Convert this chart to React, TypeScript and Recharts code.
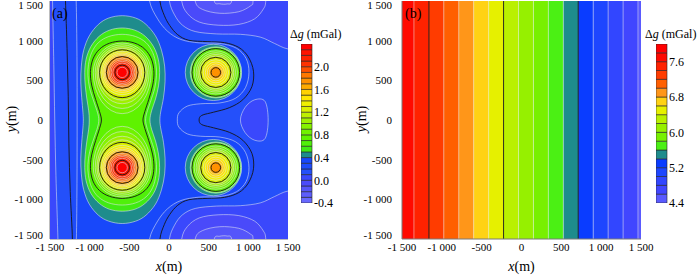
import React from "react";
import {
  ScatterChart,
  Scatter,
  XAxis,
  YAxis,
  BarChart,
  Bar,
  ReferenceArea,
  ReferenceLine,
} from "recharts";

const FONT = "Liberation Serif, Times New Roman, serif";
const FRAME = "#7a7a7a";
const LIGHT_LINE = "rgba(225,228,240,0.8)";
const DARK_LINE = "#161616";

// shared axes (metres)
const axisTicks = [-1500, -1000, -500, 0, 500, 1000, 1500];
const axisTickLabels = ["-1 500", "-1 000", "-500", "0", "500", "1 000", "1 500"];

// ---------- panel (a): residual anomaly ----------
const levelsA = [
  -0.4, -0.3, -0.2, -0.1, 0.0, 0.1, 0.2, 0.3, 0.4, 0.5, 0.6, 0.7, 0.8, 0.9, 1.0,
  1.1, 1.2, 1.3, 1.4, 1.5, 1.6, 1.7, 1.8, 1.9, 2.0, 2.1, 2.2, 2.3, 2.4,
];
const colorsA = [
  "#6868FF", "#5E5EFC", "#5555FA", "#4A4AFA", "#3A48FC", "#2450FA", "#1E4CFA", "#1848FA",
  "#1E8C8C", "#40EA14", "#50F00A", "#5FF200", "#70F200", "#86F200", "#A0F000", "#BEF000",
  "#DCF000", "#F0F000", "#FFE600", "#FFD200", "#FFAA00", "#FF9100", "#FF7800", "#FF5000",
  "#FF3200", "#FF2300", "#FF1400", "#FF0000",
];
const colorTicksA = [-0.4, 0, 0.4, 0.8, 1.2, 1.6, 2.0];
const majorLevelsA = [0.2, 0.7, 1.2, 1.7, 2.2];
const backgroundLevelA = 0.1;

// contour outlines, [x, y] in metres
const plotBox = [[-1800, 1800], [1800, 1800], [1800, -1800], [-1800, -1800]];
const leftLow01 = [[-1800, 1800], [-1475, 1800], [-1468, 1500], [-1452, 700], [-1440, 0], [-1425, -700], [-1400, -1500], [-1395, -1800], [-1800, -1800]];
const topLow01 = [[-10, 1800], [5, 1500], [70, 1325], [170, 1195], [330, 1115], [600, 1085], [900, 1080], [1150, 1045], [1330, 965], [1500, 895], [1800, 860], [1800, 1800]];
const topLow00 = [[150, 1800], [160, 1500], [230, 1345], [380, 1235], [620, 1195], [880, 1205], [1080, 1275], [1190, 1400], [1220, 1500], [1230, 1800]];
const topLowM01 = [[320, 1800], [330, 1500], [420, 1395], [640, 1345], [880, 1365], [1030, 1440], [1060, 1500], [1070, 1800]];
const topLowM02 = [[560, 1800], [570, 1500], [640, 1465], [730, 1462], [790, 1500], [800, 1800]];
const rightLow01 = [[900, 0], [960, 160], [1080, 255], [1210, 235], [1250, 0], [1210, -235], [1080, -255], [960, -160]];

const region02 = [
  [-1320, 1800], [-120, 1800], [-114, 1500], [-60, 1320], [10, 1190], [110, 1075], [250, 1005], [480, 988], [700, 975],
  [880, 915], [1000, 795], [1065, 615], [1045, 420], [930, 255], [760, 155], [560, 98], [430, 65], [385, 30],
  [385, -30], [430, -65], [560, -98], [760, -155], [930, -255], [1045, -420], [1065, -615], [1000, -795], [880, -915],
  [700, -975], [480, -988], [250, -1005], [110, -1075], [10, -1190], [-60, -1320], [-114, -1500], [-120, -1800],
  [-1230, -1800], [-1218, -1500], [-1245, -900], [-1262, -300], [-1270, 300], [-1285, 900], [-1305, 1500],
];
const region03 = [
  [-1190, 1800], [-250, 1800], [-245, 1500], [-150, 1285], [-20, 1120], [150, 1015], [380, 972], [640, 965], [850, 905],
  [972, 775], [1008, 600], [965, 410], [840, 275], [640, 215], [400, 205], [230, 175], [125, 90], [105, 0],
  [125, -90], [230, -175], [400, -205], [640, -215], [840, -275], [965, -410], [1008, -600], [972, -775], [850, -905],
  [640, -965], [380, -972], [150, -1015], [-20, -1120], [-150, -1285], [-245, -1500], [-250, -1800],
  [-1190, -1800], [-1168, -1500], [-1160, -800], [-1158, 0], [-1160, 800], [-1170, 1500],
];
const peanut04 = [
  [-590, 1315], [-420, 1285], [-290, 1205], [-170, 1060], [-95, 880], [-55, 680], [-50, 480], [-70, 280], [-105, 100], [-115, 0],
  [-105, -100], [-70, -280], [-50, -480], [-55, -680], [-95, -880], [-170, -1060], [-290, -1200], [-420, -1275], [-590, -1305],
  [-760, -1275], [-890, -1200], [-1005, -1060], [-1075, -880], [-1105, -680], [-1112, -480], [-1100, -280], [-1085, -100], [-1080, 0],
  [-1085, 100], [-1100, 280], [-1112, 480], [-1105, 680], [-1075, 880], [-1005, 1060], [-890, 1205], [-760, 1285],
];
const peanut05 = [
  [-590, 1160], [-430, 1132], [-300, 1055], [-195, 925], [-135, 765], [-118, 600], [-132, 430], [-170, 265], [-220, 115], [-240, 0],
  [-220, -115], [-170, -265], [-132, -430], [-118, -600], [-135, -765], [-195, -925], [-300, -1050], [-430, -1125], [-590, -1150],
  [-750, -1125], [-880, -1050], [-985, -925], [-1045, -765], [-1062, -600], [-1055, -430], [-1035, -265], [-1012, -115], [-1005, 0],
  [-1012, 115], [-1035, 265], [-1055, 430], [-1062, 600], [-1045, 765], [-985, 925], [-880, 1055], [-750, 1132],
];
const peanut06 = [
  [-590, 1080], [-420, 1052], [-290, 975], [-205, 850], [-165, 700], [-158, 560], [-180, 400], [-235, 225], [-280, 90], [-295, 0],
  [-280, -90], [-235, -225], [-180, -400], [-158, -560], [-165, -700], [-205, -850], [-290, -970], [-420, -1045], [-590, -1072],
  [-760, -1045], [-890, -970], [-975, -850], [-1015, -700], [-1022, -560], [-1000, -400], [-945, -225], [-900, -90], [-885, 0],
  [-900, 90], [-945, 225], [-1000, 400], [-1022, 560], [-1015, 700], [-975, 850], [-890, 975], [-760, 1052],
];
const peanut07 = [
  [-590, 995], [-430, 968], [-305, 893], [-222, 770], [-190, 610], [-205, 440], [-255, 260], [-305, 105], [-328, 0],
  [-305, -105], [-255, -260], [-205, -440], [-190, -610], [-222, -770], [-305, -890], [-430, -962], [-590, -988],
  [-750, -962], [-875, -890], [-958, -770], [-990, -610], [-975, -440], [-925, -260], [-875, -105], [-852, 0],
  [-875, 105], [-925, 260], [-975, 440], [-990, 610], [-958, 770], [-875, 893], [-750, 968],
];
const peanutLevels = [0.4, 0.5, 0.6, 0.7];
const peanutShapes = [peanut04, peanut05, peanut06, peanut07];

// closed rings around the four sources (radii in metres)
const bigCenters = [[-590, 600], [-590, -600]];
const bigLobeLevels = [0.8, 0.9, 1.0, 1.1, 1.2, 1.3, 1.4, 1.5, 1.6, 1.7, 1.8, 1.9, 2.0, 2.1, 2.2, 2.3];
const bigLobeSide = [365, 340, 318, 300, 285, 265, 245, 228, 213, 200, 180, 160, 140, 118, 92, 65];
const bigLobeAway = [370, 348, 324, 303, 285, 265, 245, 228, 213, 200, 180, 160, 140, 118, 92, 65];
const bigLobeToward = [520, 455, 395, 350, 318, 280, 252, 230, 213, 200, 180, 160, 140, 118, 92, 65];
const smallCenters = [[590, 600], [590, -600]];
const smallRingLevels = [0.5, 0.6, 0.7, 0.8, 0.9, 1.0, 1.1, 1.2, 1.3, 1.4, 1.5, 1.6, 1.7];
const smallRingRadii = [322, 311, 300, 272, 248, 226, 207, 190, 160, 132, 106, 82, 60];
const smallTealCenters = [[560, 600], [560, -600]];
const smallTealLevel = 0.4;
const smallTealRadius = 355;

// ---------- panel (b): regional field ----------
const levelsB = [4.4, 4.6, 4.8, 5.0, 5.2, 5.4, 5.6, 5.8, 6.0, 6.2, 6.4, 6.6, 6.8, 7.0, 7.2, 7.4, 7.6, 7.8, 8.0];
const colorsB = [
  "#5A5AFF", "#4146FF", "#3246FF", "#1E46FF", "#0A3CFF", "#1E8C8C", "#4BF014", "#78F000", "#96F000",
  "#B9F000", "#E6F000", "#FFD214", "#FF9619", "#FF5F00", "#FF3C00", "#FF2200", "#FF0A00", "#FF0000",
];
const colorTicksB = [4.4, 5.2, 6.0, 6.8, 7.6];
const majorLevelsB = [5.4, 6.4, 7.4];
const bandEdgesB = [-1500, -1350, -1162, -975, -787, -600, -412, -225, -37, 150, 337, 525, 712, 900, 1087, 1275, 1462, 1500];
const bandValuesB = [7.6, 7.4, 7.2, 7.0, 6.8, 6.6, 6.4, 6.2, 6.0, 5.8, 5.6, 5.4, 5.2, 5.0, 4.8, 4.6, 4.4];

// ---------- helpers ----------
type P = { x: number; y: number };
const same = (a: number, b: number) => Math.abs(a - b) < 1e-6;
const toPts = (arr: number[][]): P[] => arr.map(([x, y]) => ({ x, y }));
const mirrorY = (arr: number[][]) => arr.map(([x, y]) => [x, -y]);
const colorA = (v: number) => colorsA[Math.round((v - levelsA[0]) * 10)];
const colorB = (v: number) => colorsB[Math.round((v - levelsB[0]) / 0.2)];
const fmtTick = (v: number) => axisTickLabels[axisTicks.indexOf(v)] ?? String(v);

function smoothClosed(pts: P[]) {
  const n = pts.length;
  if (n < 3) return "";
  let d = `M${pts[0].x},${pts[0].y}`;
  for (let i = 0; i < n; i++) {
    const p0 = pts[(i - 1 + n) % n];
    const p1 = pts[i];
    const p2 = pts[(i + 1) % n];
    const p3 = pts[(i + 2) % n];
    const c1x = p1.x + (p2.x - p0.x) / 6;
    const c1y = p1.y + (p2.y - p0.y) / 6;
    const c2x = p2.x - (p3.x - p1.x) / 6;
    const c2y = p2.y - (p3.y - p1.y) / 6;
    d += `C${c1x},${c1y} ${c2x},${c2y} ${p2.x},${p2.y}`;
  }
  return d + "Z";
}

function straightClosed(pts: P[]) {
  return pts.map((p, i) => `${i ? "L" : "M"}${p.x},${p.y}`).join("") + "Z";
}

// each ring: centre, side rim, rim away from the saddle, rim toward the saddle
function ringsPath(pts: P[]) {
  let d = "";
  for (let i = 0; i + 3 < pts.length; i += 4) {
    const c = pts[i];
    const rs = Math.abs(pts[i + 1].x - c.x);
    const ra = Math.abs(pts[i + 2].y - c.y);
    const rt = Math.abs(pts[i + 3].y - c.y);
    const sw = pts[i + 2].y < c.y ? 1 : 0;
    d += `M${c.x - rs},${c.y}A${rs},${ra} 0 0 ${sw} ${c.x + rs},${c.y}A${rs},${rt} 0 0 ${sw} ${c.x - rs},${c.y}Z`;
  }
  return d;
}

function ringPoints(cx: number, cy: number, side: number, away: number, toward: number): P[] {
  const dir = cy >= 0 ? 1 : -1;
  return [
    { x: cx, y: cy },
    { x: cx + side, y: cy },
    { x: cx, y: cy + dir * away },
    { x: cx, y: cy - dir * toward },
  ];
}

type Shape = { key: string; kind: "box" | "poly" | "rings"; level: number; fill: string; pts: P[] };

const shapesA: Shape[] = [
  { key: "bg", kind: "box", level: backgroundLevelA, fill: colorA(backgroundLevelA), pts: toPts(plotBox) },
  { key: "lowL", kind: "poly", level: 0.1, fill: colorA(0.0), pts: toPts(leftLow01) },
  { key: "lowT1", kind: "poly", level: 0.1, fill: colorA(0.0), pts: toPts(topLow01) },
  { key: "lowB1", kind: "poly", level: 0.1, fill: colorA(0.0), pts: toPts(mirrorY(topLow01)) },
  { key: "lowR1", kind: "poly", level: 0.1, fill: colorA(0.0), pts: toPts(rightLow01) },
  { key: "lowT0", kind: "poly", level: 0.0, fill: colorA(-0.1), pts: toPts(topLow00) },
  { key: "lowB0", kind: "poly", level: 0.0, fill: colorA(-0.1), pts: toPts(mirrorY(topLow00)) },
  { key: "lowTm1", kind: "poly", level: -0.1, fill: colorA(-0.2), pts: toPts(topLowM01) },
  { key: "lowBm1", kind: "poly", level: -0.1, fill: colorA(-0.2), pts: toPts(mirrorY(topLowM01)) },
  { key: "lowTm2", kind: "poly", level: -0.2, fill: colorA(-0.3), pts: toPts(topLowM02) },
  { key: "lowBm2", kind: "poly", level: -0.2, fill: colorA(-0.3), pts: toPts(mirrorY(topLowM02)) },
  { key: "r02", kind: "poly", level: 0.2, fill: colorA(0.2), pts: toPts(region02) },
  { key: "r03", kind: "poly", level: 0.3, fill: colorA(0.3), pts: toPts(region03) },
];

levelsA.slice(8, 28).forEach((L) => {
  const pi = peanutLevels.findIndex((v) => same(v, L));
  if (pi >= 0) shapesA.push({ key: `p${L}`, kind: "poly", level: L, fill: colorA(L), pts: toPts(peanutShapes[pi]) });
  const rings: P[] = [];
  if (same(L, smallTealLevel)) {
    smallTealCenters.forEach(([cx, cy]) => rings.push(...ringPoints(cx, cy, smallTealRadius, smallTealRadius, smallTealRadius)));
  }
  const bi = bigLobeLevels.findIndex((v) => same(v, L));
  if (bi >= 0) {
    bigCenters.forEach(([cx, cy]) => rings.push(...ringPoints(cx, cy, bigLobeSide[bi], bigLobeAway[bi], bigLobeToward[bi])));
  }
  const si = smallRingLevels.findIndex((v) => same(v, L));
  if (si >= 0) {
    const r = smallRingRadii[si];
    smallCenters.forEach(([cx, cy]) => rings.push(...ringPoints(cx, cy, r, r, r)));
  }
  if (rings.length) shapesA.push({ key: `g${L}`, kind: "rings", level: L, fill: colorA(L), pts: rings });
});

const tickStyle = { fill: "#000", fontSize: 11, fontFamily: FONT };

// y labels at the ends sit just inside the frame, as in the original
function YTick(props: any) {
  const { x, y, payload } = props;
  const ty = Math.min(Math.max(y, 5), 235);
  return (
    <text x={x} y={ty} dy="0.355em" textAnchor="end" fill="#000" fontSize={11} fontFamily={FONT}>
      {fmtTick(payload.value)}
    </text>
  );
}

function XTitle(props: any) {
  const vb = props.viewBox || { x: 0, y: 0, width: 0 };
  return (
    <text x={vb.x + vb.width / 2} y={vb.y + 32} textAnchor="middle" fontFamily={FONT} fontSize={14} fill="#000">
      <tspan fontStyle="italic">x</tspan>(m)
    </text>
  );
}

function YTitle(props: any) {
  const vb = props.viewBox || { x: 0, y: 0, height: 0 };
  const x = vb.x + 16;
  const y = vb.y + vb.height / 2 - 1;
  return (
    <text x={x} y={y} transform={`rotate(-90 ${x} ${y})`} textAnchor="middle" fontFamily={FONT} fontSize={14} fill="#000">
      <tspan fontStyle="italic">y</tspan>(m)
    </text>
  );
}

function axes(yWidth: number, yMargin: number) {
  return [
    <XAxis
      key="xb"
      dataKey="x"
      type="number"
      domain={[-1500, 1500]}
      allowDataOverflow
      ticks={axisTicks}
      interval={0}
      tickFormatter={fmtTick}
      tickLine={false}
      tickSize={0}
      tickMargin={4}
      height={36}
      axisLine={{ stroke: FRAME }}
      tick={tickStyle}
      label={{ content: XTitle }}
    />,
    <YAxis
      key="yl"
      dataKey="y"
      type="number"
      domain={[-1500, 1500]}
      allowDataOverflow
      ticks={axisTicks}
      interval={0}
      tickLine={false}
      tickSize={0}
      tickMargin={yMargin}
      width={yWidth}
      axisLine={{ stroke: FRAME }}
      tick={YTick}
      label={{ content: YTitle }}
    />,
    <XAxis key="xt" xAxisId="top" orientation="top" type="number" domain={[-1500, 1500]} height={0} tick={false} tickLine={false} axisLine={{ stroke: FRAME }} />,
    <YAxis key="yr" yAxisId="right" orientation="right" type="number" domain={[-1500, 1500]} width={0} tick={false} tickLine={false} axisLine={{ stroke: FRAME }} />,
  ];
}

function contourSeries(s: Shape) {
  const major = majorLevelsA.some((m) => same(m, s.level));
  const stroke = s.kind === "box" ? "none" : major ? DARK_LINE : LIGHT_LINE;
  const pathOf = (pts: P[]) =>
    s.kind === "rings" ? ringsPath(pts) : s.kind === "box" ? straightClosed(pts) : smoothClosed(pts);
  return (
    <Scatter
      key={s.key}
      data={s.pts}
      isAnimationActive={false}
      shape={() => <g />}
      line={(p: any) => <path d={pathOf(p.points)} fill={s.fill} stroke={stroke} strokeWidth={major ? 0.9 : 0.7} />}
    />
  );
}

function ColorBar({ levels, colors, ticks, left }: { levels: number[]; colors: string[]; ticks: number[]; left: number }) {
  const row: Record<string, number | string> = { name: "cb", base: levels[0] };
  colors.forEach((_, i) => {
    row[`c${i}`] = levels[i + 1] - levels[i];
  });
  return (
    <div style={{ position: "absolute", left, top: 44 }}>
      <BarChart width={52} height={169} data={[row]} margin={{ top: 0, right: 0, bottom: 10, left: 0 }} barCategoryGap={0} stackOffset="none">
        <XAxis dataKey="name" hide />
        <YAxis
          orientation="right"
          type="number"
          width={41}
          domain={[levels[0], levels[levels.length - 1]]}
          allowDataOverflow
          ticks={ticks}
          interval={0}
          tickFormatter={(v: number) => v.toFixed(1)}
          tickLine={false}
          axisLine={false}
          tickSize={0}
          tickMargin={2}
          tick={{ fill: "#000", fontSize: 12, fontFamily: FONT }}
        />
        <Bar dataKey="base" stackId="s" fill="none" isAnimationActive={false} />
        {colors.map((c, i) => (
          <Bar key={i} dataKey={`c${i}`} stackId="s" fill={c} stroke="#262626" strokeWidth={0.6} isAnimationActive={false} />
        ))}
      </BarChart>
    </div>
  );
}

const textAbs = (left: number, top: number, size: number): React.CSSProperties => ({
  position: "absolute",
  left,
  top,
  fontFamily: FONT,
  fontSize: size,
  lineHeight: `${size}px`,
  color: "#000",
  whiteSpace: "nowrap",
});

export default function App() {
  return (
    <div style={{ position: "absolute", left: 0, top: 0, width: 700, height: 275, background: "#fff", overflow: "hidden" }}>
      <div style={{ position: "absolute", left: 0, top: 0 }}>
        <ScatterChart width={350} height={275} margin={{ top: 1, right: 62, bottom: 0, left: 0 }}>
          {axes(50, 7)}
          {shapesA.map(contourSeries)}
        </ScatterChart>
      </div>
      <div style={{ position: "absolute", left: 350, top: 0 }}>
        <ScatterChart width={350} height={275} margin={{ top: 1, right: 59, bottom: 0, left: 0 }}>
          {axes(52, 10)}
          {bandValuesB.map((v, i) => (
            <ReferenceArea key={`band${i}`} x1={bandEdgesB[i]} x2={bandEdgesB[i + 1]} fill={colorB(v)} fillOpacity={1} stroke="none" />
          ))}
          {bandValuesB.slice(0, -1).map((v, i) => {
            const major = majorLevelsB.some((m) => same(m, v));
            return (
              <ReferenceLine
                key={`edge${i}`}
                x={bandEdgesB[i + 1]}
                stroke={major ? DARK_LINE : "rgba(235,235,235,0.6)"}
                strokeWidth={major ? 0.9 : 0.8}
              />
            );
          })}
        </ScatterChart>
      </div>
      <ColorBar levels={levelsA} colors={colorsA} ticks={colorTicksA} left={301} />
      <ColorBar levels={levelsB} colors={colorsB} ticks={colorTicksB} left={656} />
      <div style={textAbs(52, 7, 14)}>(a)</div>
      <div style={textAbs(405, 7, 14)}>(b)</div>
      <div style={textAbs(290, 28, 12)}>
        Δ<i>g</i> (mGal)
      </div>
      <div style={textAbs(645, 28, 12)}>
        Δ<i>g</i> (mGal)
      </div>
    </div>
  );
}
